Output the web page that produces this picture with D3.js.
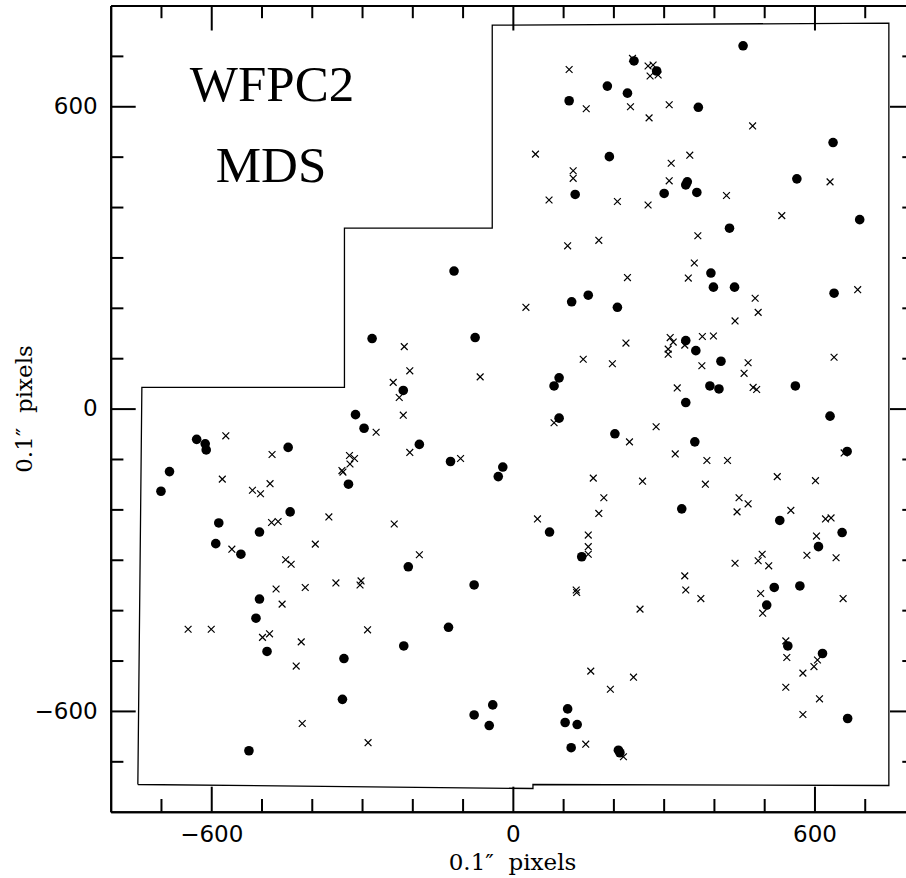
<!DOCTYPE html>
<html>
<head>
<meta charset="utf-8">
<script src="https://d3js.org/d3.v7.min.js"></script>
<style>
  body { margin: 0; background: #fff; }
  svg { display: block; }
</style>
</head>
<body>
<div id="wrapper"></div>
<script>
// detected sources (filled circles), in 0.1" pixels
const dotX = [112, 124, -117, 150, 117, 458, 241, 286, 188, 228, 369, 637, 192, 565, 347, 344, 301, 366, 690, 431,
  394, 399, 441, 639, -280, -75, -218, 92, 82, -313, -296, 92, -186, -327, -124, -20, -29, 73, 137, -208,
  -77, 208, 344, 364, 414, 392, 410, 562, 344, 631, 203, 362, 665, 336, 531, 655, 608, 520, 571, 505,
  547, 616, 666, 210, 213, -336, -217, -128, -339, -77, -40, -47, 109, 104, 128, 116, -504, -511, -489, -525,
  -629, -612, -610, -447, -683, -700, -443, -585, -504, -591, -541];
const dotY = [611, 425, 273, 225, 212, 720, 690, 670, 640, 626, 598, 528, 500, 456, 450, 444, 427, 429, 375, 358,
  269, 241, 241, 229, 139, 141, 36, 61, 45, -12, -39, -19, -71, -150, -105, -116, -135, -245, -294, -314,
  -350, 201, 135, 115, 94, 45, 39, 45, 12, -15, -50, -66, -85, -199, -222, -246, -274, -355, -352, -390,
  -471, -486, -615, -678, -683, -496, -471, -434, -577, -608, -588, -629, -596, -623, -627, -673, -378, -416, -482, -679,
  -61, -70, -82, -77, -125, -164, -205, -227, -245, -268, -289];

// other objects (crosses)
const crossX = [112, 146, 45, 120, 120, 72, 109, 171, 238, 269, 279, 273, 289, 234, 311, 271, 477, 352, 315, 631,
  311, 425, 208, 269, 535, 368, 361, 228, 349, 686, 482, 26, -216, 140, -205, -65, -238, -226, -218, -272,
  82, -205, -325, -315, -324, -340, -338, -104, 160, 171, -366, -236, 49, 150, 150, 150, -393, -186, -413, -352,
  -302, -304, 126, 127, 488, 442, 225, 313, 319, 309, 309, 342, 377, 399, 198, 376, 468, 460, 639, 327,
  478, 485, 285, 232, 323, 386, 427, 659, 258, 383, 526, 602, 181, 450, 468, 446, 553, 622, 633, 604,
  585, 643, 442, 496, 488, 509, 342, 344, 374, 493, 657, 253, 497, 543, 545, 606, 599, 577, 543, 610,
  577, 240, 194, 220, -421, -289, -419, -288, 155, 145, -459, -646, -600, -498, -484, -431, -571, -479, -578, -518,
  -502, -483, -480, -467, -559, -452, -441, -471];
const crossY = [673, 595, 505, 472, 457, 414, 323, 334, 695, 680, 682, 660, 662, 599, 603, 577, 561, 503, 487, 450,
  452, 423, 411, 404, 383, 343, 289, 260, 259, 236, 219, 201, 123, 98, 75, 63, 52, 22, -13, -47,
  -28, -87, -93, -99, -110, -123, -126, -99, -138, -208, -215, -229, -219, -251, -274, -289, -269, -290, -355, -346,
  -342, -350, -360, -365, 191, 174, 130, 141, 132, 118, 108, 126, 143, 144, 89, 85, 91, 70, 102, 41,
  42, 38, -36, -66, -90, -103, -103, -88, -144, -150, -135, -143, -177, -177, -189, -205, -202, -219, -217, -253,
  -291, -296, -307, -289, -302, -312, -332, -360, -377, -367, -377, -398, -406, -461, -494, -499, -512, -525, -553, -576,
  -607, -533, -557, -691, -463, -439, -625, -663, -521, -666, -388, -438, -438, -454, -447, -511, -54, -91, -140, -162,
  -169, -149, -226, -224, -279, -300, -309, -358];

// WFPC2 footprint outline (PC + WF chips)
const footX = [-746, -738, -335, -335, -41, -41, 748, 748, 40, 40, -746];
const footY = [-746, 42, 42, 358, 358, 761, 765, -748, -746, -754, -746];

const majorTicks = [-600, 0, 600];
const minorTicks = [-700, -500, -400, -300, -200, -100, 100, 200, 300, 400, 500, 700];

const width = 906, height = 878;
const plot = { left: 110.7, right: 915, top: 5.5, bottom: 811.7 };

const svg = d3.select("#wrapper")
  .append("svg")
  .attr("width", width)
  .attr("height", height);

const xScale = d3.scaleLinear().domain([-800, 800]).range([plot.left, plot.right]);
const yScale = d3.scaleLinear().domain([-800, 800]).range([plot.bottom, plot.top]);

// footprint outline
const footLine = d3.line()
  .x((d, i) => xScale(footX[i]))
  .y((d, i) => yScale(footY[i]));
svg.append("path")
  .attr("d", footLine(footX))
  .attr("fill", "none")
  .attr("stroke", "#000")
  .attr("stroke-width", 1.3);

// crosses
svg.append("g")
  .selectAll("path")
  .data(crossX)
  .join("path")
  .attr("transform", (d, i) => `translate(${xScale(d)},${yScale(crossY[i])})`)
  .attr("d", "M-3.4,-3.4L3.4,3.4M-3.4,3.4L3.4,-3.4")
  .attr("stroke", "#000")
  .attr("stroke-width", 1.2)
  .attr("fill", "none");

// dots
svg.append("g")
  .selectAll("circle")
  .data(dotX)
  .join("circle")
  .attr("cx", d => xScale(d))
  .attr("cy", (d, i) => yScale(dotY[i]))
  .attr("r", 4.8)
  .attr("fill", "#000");

// axes: major + minor ticks on all four sides, pointing inward
function styleAxis(g) {
  g.select(".domain").attr("stroke-width", 2);
  g.selectAll(".tick line").attr("stroke-width", 2);
  g.attr("font-family", "DejaVu Sans").attr("font-size", 23);
  g.selectAll(".tick text").attr("fill", "#000");
}

const fmt = d => d < 0 ? "\u2212" + Math.abs(d) : String(d);

// left
svg.append("g").attr("transform", `translate(${plot.left},0)`)
  .call(d3.axisLeft(yScale).tickValues(minorTicks).tickSizeInner(-12.7).tickSizeOuter(0).tickFormat(""))
  .call(styleAxis);
svg.append("g").attr("transform", `translate(${plot.left},0)`)
  .call(d3.axisLeft(yScale).tickValues(majorTicks).tickSizeInner(-25).tickSizeOuter(0).tickPadding(13).tickFormat(fmt))
  .call(styleAxis);

// bottom
svg.append("g").attr("transform", `translate(0,${plot.bottom})`)
  .call(d3.axisBottom(xScale).tickValues(minorTicks).tickSizeInner(-12.7).tickSizeOuter(0).tickFormat(""))
  .call(styleAxis);
svg.append("g").attr("transform", `translate(0,${plot.bottom})`)
  .call(d3.axisBottom(xScale).tickValues(majorTicks).tickSizeInner(-25).tickSizeOuter(0).tickPadding(14).tickFormat(fmt))
  .call(styleAxis);

// top
svg.append("g").attr("transform", `translate(0,${plot.top})`)
  .call(d3.axisTop(xScale).tickValues(minorTicks).tickSizeInner(-12.7).tickSizeOuter(0).tickFormat(""))
  .call(styleAxis);
svg.append("g").attr("transform", `translate(0,${plot.top})`)
  .call(d3.axisTop(xScale).tickValues(majorTicks).tickSizeInner(-25).tickSizeOuter(0).tickFormat(""))
  .call(styleAxis);

// right (spine sits just off the page edge)
svg.append("g").attr("transform", `translate(${plot.right},0)`)
  .call(d3.axisRight(yScale).tickValues(minorTicks).tickSizeInner(-12.7).tickSizeOuter(0).tickFormat(""))
  .call(styleAxis);
svg.append("g").attr("transform", `translate(${plot.right},0)`)
  .call(d3.axisRight(yScale).tickValues(majorTicks).tickSizeInner(-25).tickSizeOuter(0).tickFormat(""))
  .call(styleAxis);

// axis titles
svg.append("text")
  .attr("x", 512.5)
  .attr("y", 870)
  .attr("text-anchor", "middle")
  .attr("font-family", "DejaVu Serif")
  .attr("font-size", 23)
  .style("white-space", "pre")
  .text("0.1\u2033  pixels");

svg.append("text")
  .attr("transform", "translate(32,409) rotate(-90)")
  .attr("text-anchor", "middle")
  .attr("font-family", "DejaVu Serif")
  .attr("font-size", 23)
  .style("white-space", "pre")
  .text("0.1\u2033  pixels");

// chart header
svg.append("text")
  .attr("x", 272)
  .attr("y", 101)
  .attr("text-anchor", "middle")
  .attr("font-family", "Liberation Serif")
  .attr("font-size", 51)
  .text("WFPC2");
svg.append("text")
  .attr("x", 271)
  .attr("y", 182)
  .attr("text-anchor", "middle")
  .attr("font-family", "Liberation Serif")
  .attr("font-size", 51)
  .text("MDS");
</script>
</body>
</html>
